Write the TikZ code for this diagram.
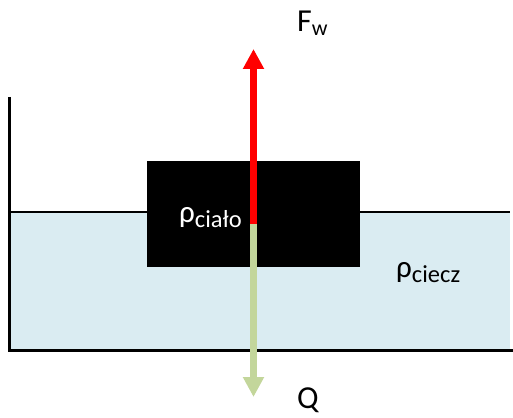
\documentclass[tikz,border=0pt]{standalone}
\usepackage{fontspec}
\setmainfont{Carlito}
\usetikzlibrary{arrows.meta}
\definecolor{water}{RGB}{218,236,242}
\definecolor{weightgreen}{RGB}{195,214,155}
\begin{document}
\begin{tikzpicture}[x=1pt,y=-1pt,
  force/.style={line width=7pt,-{Triangle[width=20pt,length=20pt]}},
  lbl/.style={inner sep=0pt,anchor=base west,font=\fontsize{32}{32}\selectfont}]
\useasboundingbox (0,0) rectangle (513,417);
% water
\fill[water] (10,212) rectangle (510,349);
\draw[line width=1.5pt] (10,212) -- (510,212);
% container
\draw[line width=3pt] (9,97) -- (9,350.5) -- (513,350.5);
% body
\node[fill=black,minimum width=213pt,minimum height=106pt,inner sep=0pt,anchor=north west] (body) at (147,161) {};
% forces
\coordinate (c) at (253.5,224);
\coordinate (fwtip) at (253.5,49);
\coordinate (qtip) at (253.5,397);
\draw[force,red] (c) -- (fwtip);
\draw[force,weightgreen] (c) -- (qtip);
% labels
\node[lbl] (fw) at (297,32) {F\raisebox{-4pt}{\fontsize{22}{22}\selectfont w}};
\node[lbl] (q) at (297,408) {Q};
\node[lbl,text=white,font=\fontsize{31}{31}\selectfont] (rb) at (179,222) {ρ\raisebox{-5pt}{\fontsize{24.5}{24.5}\selectfont ciało}};
\node[lbl,font=\fontsize{31}{31}\selectfont] (rl) at (396,277) {ρ\raisebox{-5pt}{\fontsize{24.5}{24.5}\selectfont ciecz}};
\end{tikzpicture}
\end{document}
